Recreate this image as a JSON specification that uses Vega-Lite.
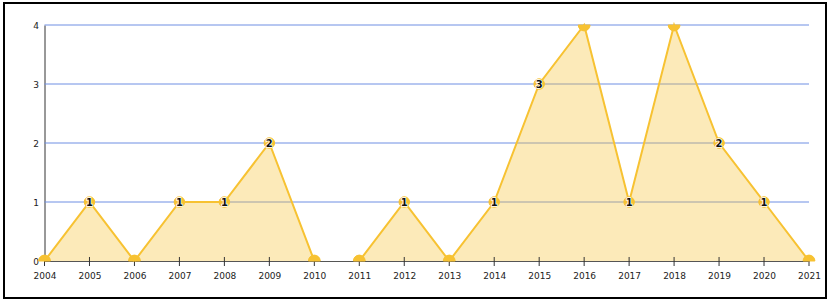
{
  "$schema": "https://vega.github.io/schema/vega-lite/v6.json",
  "autosize": {"type": "none"},
  "width": 822,
  "height": 295,
  "padding": {"left": 4, "top": 3, "right": 7, "bottom": 3},
  "background": "white",
  "config": {
    "view": {"stroke": "#000000", "strokeWidth": 2},
    "font": "DejaVu Sans"
  },
  "datasets": {
    "main": [
      {"year": 2004, "value": 0, "seg": "a"},
      {"year": 2005, "value": 1, "seg": "a"},
      {"year": 2006, "value": 0, "seg": "a"},
      {"year": 2007, "value": 1, "seg": "a"},
      {"year": 2008, "value": 1, "seg": "a"},
      {"year": 2009, "value": 2, "seg": "a"},
      {"year": 2010, "value": 0, "seg": "a"},
      {"year": 2011, "value": 0, "seg": "b"},
      {"year": 2012, "value": 1, "seg": "b"},
      {"year": 2013, "value": 0, "seg": "b"},
      {"year": 2014, "value": 1, "seg": "b"},
      {"year": 2015, "value": 3, "seg": "b"},
      {"year": 2016, "value": 4, "seg": "b"},
      {"year": 2017, "value": 1, "seg": "b"},
      {"year": 2018, "value": 4, "seg": "b"},
      {"year": 2019, "value": 2, "seg": "b"},
      {"year": 2020, "value": 1, "seg": "b"},
      {"year": 2021, "value": 0, "seg": "b"}
    ],
    "grid": [{"level": 1}, {"level": 2}, {"level": 3}, {"level": 4}]
  },
  "layer": [
    {
      "data": {"name": "grid"},
      "mark": {"type": "rule", "color": "#6f8fe3", "strokeWidth": 1},
      "encoding": {
        "y": {"field": "level", "type": "quantitative",
              "scale": {"domain": [0, 4], "range": [258, 22], "nice": false, "zero": true},
              "axis": {"values": [0, 1, 2, 3, 4], "format": "d", "grid": false, "ticks": false,
                       "domainColor": "#333333", "domainWidth": 1, "offset": -40.5,
                       "labelPadding": 6, "labelFontSize": 9, "labelColor": "#222222", "title": null}},
        "x": {"datum": 2004, "type": "quantitative",
              "scale": {"domain": [2004, 2021], "range": [40.5, 805], "nice": false, "zero": false},
              "axis": {"values": [2004, 2005, 2006, 2007, 2008, 2009, 2010, 2011, 2012, 2013, 2014, 2015, 2016, 2017, 2018, 2019, 2020, 2021],
                       "format": "d", "grid": false, "ticks": false, "domainColor": "#555555", "domainWidth": 1,
                       "offset": -37, "labelPadding": 10, "labelFontSize": 9, "labelColor": "#222222",
                       "labelFlush": false, "labelOverlap": false, "title": null}},
        "x2": {"datum": 2021}
      }
    },
    {
      "data": {"name": "main"},
      "layer": [
        {
          "mark": {"type": "area", "color": "#f5c436", "opacity": 0.35},
          "encoding": {
            "x": {"field": "year", "type": "quantitative"},
            "y": {"field": "value", "type": "quantitative"},
            "detail": {"field": "seg"}
          }
        },
        {
          "mark": {"type": "line", "color": "#f7c232", "strokeWidth": 2},
          "encoding": {
            "x": {"field": "year", "type": "quantitative"},
            "y": {"field": "value", "type": "quantitative"},
            "detail": {"field": "seg"}
          }
        },
        {
          "mark": {"type": "rule", "color": "#333333", "strokeWidth": 1},
          "encoding": {
            "x": {"field": "year", "type": "quantitative"},
            "y": {"datum": -0.085},
            "y2": {"datum": 0.068}
          }
        },
        {
          "transform": [{"filter": "datum.value > 0 && datum.value < 4"}],
          "mark": {"type": "point", "shape": "circle", "filled": true, "fill": "#f7c232", "stroke": "#f7c232", "strokeWidth": 1, "opacity": 1, "fillOpacity": 1, "size": 110},
          "encoding": {
            "x": {"field": "year", "type": "quantitative"},
            "y": {"field": "value", "type": "quantitative"}
          }
        },
        {
          "transform": [{"filter": "datum.value == 0"}],
          "mark": {"type": "point", "shape": "M-1,0A1,1,0,0,1,1,0Z", "filled": true, "fill": "#f7c232", "stroke": "#f7c232", "strokeWidth": 1, "opacity": 1, "size": 140},
          "encoding": {
            "x": {"field": "year", "type": "quantitative"},
            "y": {"field": "value", "type": "quantitative"}
          }
        },
        {
          "transform": [{"filter": "datum.value == 4"}],
          "mark": {"type": "point", "shape": "M-1,0A1,1,0,0,0,1,0Z", "filled": true, "fill": "#f7c232", "stroke": "#f7c232", "strokeWidth": 1, "opacity": 1, "size": 140},
          "encoding": {
            "x": {"field": "year", "type": "quantitative"},
            "y": {"field": "value", "type": "quantitative"}
          }
        },
        {
          "transform": [{"filter": "datum.value > 0 && datum.value < 4"}],
          "mark": {"type": "text", "fontSize": 10, "fontWeight": "bold", "color": "white", "stroke": "white", "strokeWidth": 1.5, "baseline": "middle", "align": "center", "dy": 0.5},
          "encoding": {
            "x": {"field": "year", "type": "quantitative"},
            "y": {"field": "value", "type": "quantitative"},
            "text": {"field": "value", "type": "quantitative", "format": "d"}
          }
        },
        {
          "transform": [{"filter": "datum.value > 0 && datum.value < 4"}],
          "mark": {"type": "text", "fontSize": 10, "fontWeight": "bold", "color": "#111111", "baseline": "middle", "align": "center", "dy": 0.5},
          "encoding": {
            "x": {"field": "year", "type": "quantitative"},
            "y": {"field": "value", "type": "quantitative"},
            "text": {"field": "value", "type": "quantitative", "format": "d"}
          }
        }
      ]
    }
  ]
}
